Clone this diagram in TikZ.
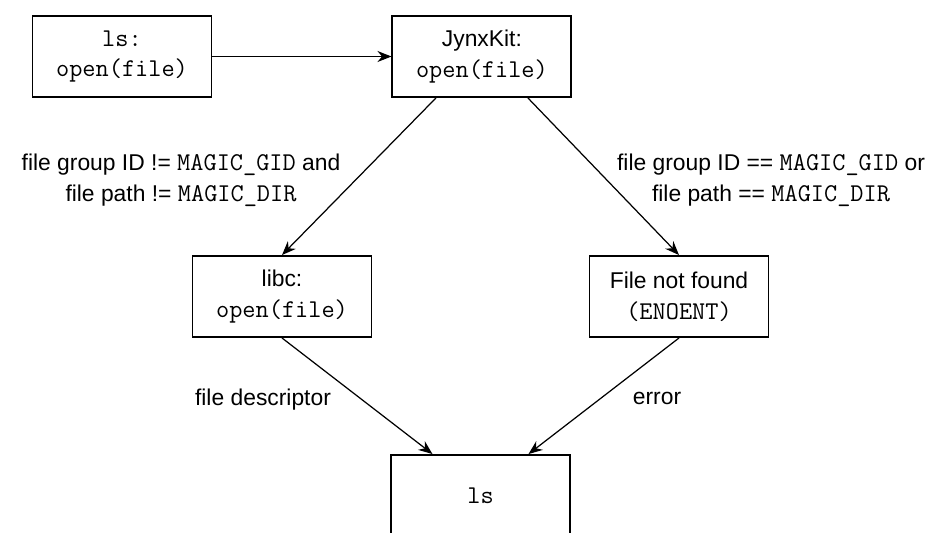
\documentclass[tikz,border=0pt]{standalone}
\usepackage{fontspec}
\setmainfont{Liberation Sans}
\setmonofont{Latin Modern Mono}[Scale=1.12]
\usetikzlibrary{positioning,arrows.meta}

\begin{document}
\begin{tikzpicture}[
    font=\fontsize{13}{17.6}\selectfont,
    call/.style={draw, line width=1.1pt, minimum width=3.58cm, minimum height=1.62cm,
                 align=center, inner sep=0pt},
    flow/.style={-{Stealth[length=0.28cm, width=0.22cm]}, line width=0.7pt},
    cond/.style={align=center}]
  \useasboundingbox (0,0) rectangle (18.74,-10.64);
  \clip (0,0) rectangle (18.74,-10.64);

  % the calls
  \node[call] (ls) at (2.44,-1.13) {\texttt{ls:}\\\texttt{open(file)}};
  \node[call, right=3.58cm of ls] (jynx) {JynxKit:\\\texttt{open(file)}};
  \node[call] (libc) at (5.64,-5.93) {libc:\\\texttt{open(file)}};
  \node[call] (enoent) at (13.58,-5.93) {File not found\\\texttt{(ENOENT)}};
  \node[call] (lsres) at (9.61,-9.91) {\texttt{ls}};

  % the two branches
  \node[cond] (hidden) at (3.62,-3.6)
    {file group ID != \texttt{MAGIC\_GID} and\\file path != \texttt{MAGIC\_DIR}};
  \node[cond] (visible) at (15.42,-3.6)
    {file group ID == \texttt{MAGIC\_GID} or\\file path == \texttt{MAGIC\_DIR}};
  \node (fd) at (5.26,-8.0) {file descriptor};
  \node (err) at (13.14,-7.96) {error};

  \draw[flow] (ls) -- (jynx);
  \draw[flow] ([xshift=-0.92cm]jynx.south) -- (libc.north);
  \draw[flow] ([xshift=0.92cm]jynx.south) -- (enoent.north);
  \draw[flow] (libc.south) -- ([xshift=-0.96cm]lsres.north);
  \draw[flow] (enoent.south) -- ([xshift=0.96cm]lsres.north);
\end{tikzpicture}
\end{document}
